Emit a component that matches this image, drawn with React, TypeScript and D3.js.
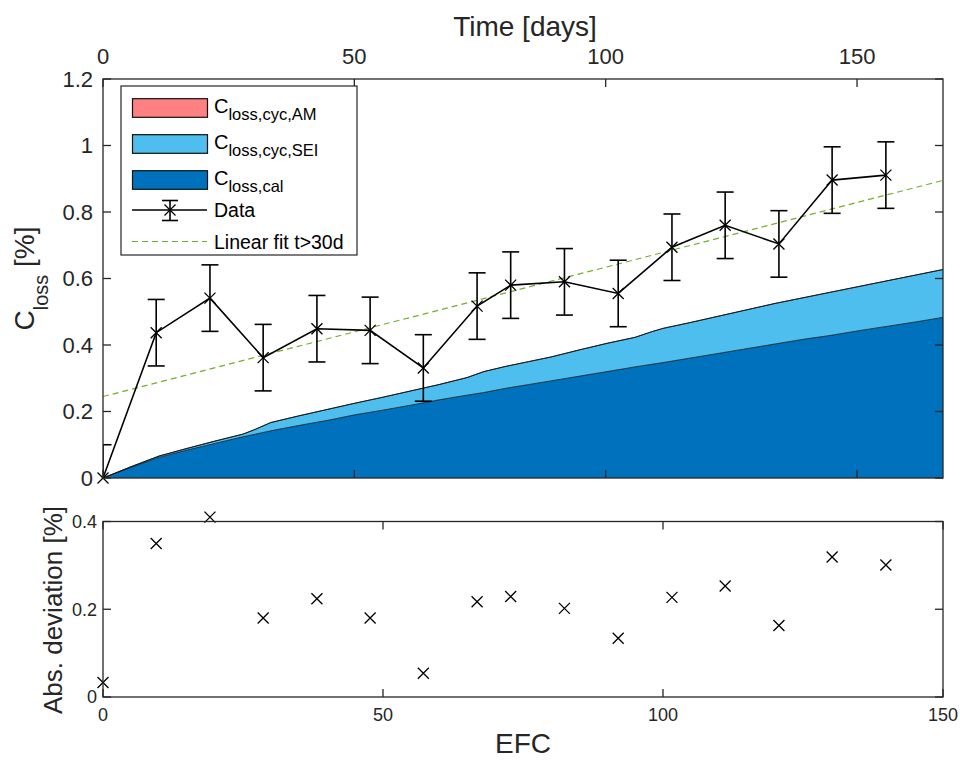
import React from "react";
import * as d3 from "d3";

// ---------- data ----------
const measEfc = [0, 9.5, 19.1, 28.6, 38.2, 47.7, 57.2, 66.8, 72.8, 82.4, 92.0, 101.6, 111.1, 120.7, 130.2, 139.8];
const measLoss = [0, 0.437, 0.541, 0.362, 0.449, 0.444, 0.331, 0.517, 0.58, 0.59, 0.555, 0.694, 0.76, 0.704, 0.896, 0.911];
const measErr = [0.1, 0.1, 0.1, 0.1, 0.1, 0.1, 0.1, 0.1, 0.1, 0.1, 0.1, 0.1, 0.1, 0.1, 0.1, 0.1];
const absDeviation = [0.033, 0.35, 0.41, 0.18, 0.224, 0.18, 0.054, 0.217, 0.229, 0.202, 0.134, 0.227, 0.253, 0.163, 0.319, 0.301];

const modelEfc = [0, 5, 10, 15, 20, 25, 27, 30, 35, 40, 45, 50, 55, 60, 65, 68, 72, 76, 80, 85, 90, 95, 98, 100, 105, 110, 115, 120, 125, 130, 135, 140, 145, 150];
const calLoss = [0, 0.032, 0.062, 0.084, 0.104, 0.124, 0.131, 0.142, 0.158, 0.173, 0.19, 0.204, 0.219, 0.235, 0.249, 0.257, 0.27, 0.281, 0.292, 0.306, 0.32, 0.334, 0.342, 0.347, 0.361, 0.375, 0.389, 0.403, 0.417, 0.429, 0.443, 0.456, 0.469, 0.483];
const seiLoss = [0, 0.002, 0.004, 0.005, 0.007, 0.008, 0.014, 0.025, 0.029, 0.033, 0.035, 0.039, 0.043, 0.046, 0.053, 0.063, 0.066, 0.069, 0.072, 0.079, 0.085, 0.089, 0.098, 0.103, 0.107, 0.112, 0.117, 0.122, 0.125, 0.13, 0.133, 0.137, 0.141, 0.144];
const amLoss = [0, 0, 0, 0, 0, 0, 0, 0, 0, 0, 0, 0, 0, 0, 0, 0, 0, 0, 0, 0, 0, 0, 0, 0, 0, 0, 0, 0, 0, 0, 0, 0, 0, 0];

const fitEfc = [0, 150];
const fitLoss = [0.245, 0.895];

const timeTicks = [0, 50, 100, 150];
const efcTicks = [0, 50, 100, 150];
const yTopTicks = [0, 0.2, 0.4, 0.6, 0.8, 1, 1.2];
const yTopLabels = ["0", "0.2", "0.4", "0.6", "0.8", "1", "1.2"];
const yBotTicks = [0, 0.2, 0.4];
const yBotLabels = ["0", "0.2", "0.4"];

const legendAreas = [
  { key: "am", sub: "loss,cyc,AM", color: "#FF8080" },
  { key: "sei", sub: "loss,cyc,SEI", color: "#4DBEEE" },
  { key: "cal", sub: "loss,cal", color: "#0072BD" },
];

// ---------- layout ----------
const W = 960, H = 761;
const XL = 103, XR = 943;
const TT = 79, TB = 478;
const BT = 521.5, BB = 697;
const FONT = "'Liberation Sans', Arial, Helvetica, sans-serif";
const AX = "#262626";
const TL = 8;

const xS = d3.scaleLinear().domain([0, 150]).range([XL, XR]);
const tS = d3.scaleLinear().domain([0, 167.1]).range([XL, XR]);
const yT = d3.scaleLinear().domain([0, 1.2]).range([TB, TT]);
const yB = d3.scaleLinear().domain([0, 0.4]).range([BB, BT]);

const xMark = (s: number) => `M${-s},${-s}L${s},${s}M${-s},${s}L${s},${-s}`;

export default function App() {
  const table = modelEfc.map((e, i) => ({ efc: e, cal: calLoss[i], sei: seiLoss[i], am: amLoss[i] }));
  const stack = d3.stack<any>().keys(["cal", "sei", "am"])(table);
  const area = d3
    .area<any>()
    .x((d) => xS(d.data.efc))
    .y0((d) => yT(d[0]))
    .y1((d) => yT(d[1]));
  const topLine = d3
    .line<any>()
    .x((d) => xS(d.data.efc))
    .y((d) => yT(d[1]));
  const colorOf: Record<string, string> = { cal: "#0072BD", sei: "#4DBEEE", am: "#FF8080" };

  const dataLine = d3
    .line<number>()
    .x((_, i) => xS(measEfc[i]))
    .y((v) => yT(v))(measLoss);
  const fitLine = d3
    .line<number>()
    .x((_, i) => xS(fitEfc[i]))
    .y((v) => yT(v))(fitLoss);

  const capW = 8.5;

  return (
    <svg
      width={W}
      height={H}
      style={{ position: "absolute", left: 0, top: 0, background: "#fff" }}
      fontFamily={FONT}
    >
      <defs>
        <clipPath id="clipTop">
          <rect x={XL} y={TT} width={XR - XL} height={TB - TT} />
        </clipPath>
        <clipPath id="clipBot">
          <rect x={XL} y={BT} width={XR - XL} height={BB - BT} />
        </clipPath>
      </defs>
      <rect x={0} y={0} width={W} height={H} fill="#fff" />

      {/* ===== top plot ===== */}
      <g clipPath="url(#clipTop)">
        {stack.map((layer) => (
          <path key={layer.key} d={area(layer) || ""} fill={colorOf[layer.key]} stroke="none" />
        ))}
        {stack.map((layer) => (
          <path key={"l" + layer.key} d={topLine(layer) || ""} fill="none" stroke="#111" strokeWidth={0.8} />
        ))}
        <path d={fitLine || ""} fill="none" stroke="#77AC30" strokeWidth={1.2} strokeDasharray="6,4" />
        <path d={dataLine || ""} fill="none" stroke="#000" strokeWidth={1.6} />
        {measEfc.map((e, i) => {
          const x = xS(e);
          const y0 = yT(measLoss[i] - measErr[i]);
          const y1 = yT(measLoss[i] + measErr[i]);
          return (
            <g key={"eb" + i} stroke="#000" strokeWidth={1.6}>
              <line x1={x} x2={x} y1={y0} y2={y1} />
              <line x1={x - capW} x2={x + capW} y1={y0} y2={y0} />
              <line x1={x - capW} x2={x + capW} y1={y1} y2={y1} />
            </g>
          );
        })}
      </g>
      {measEfc.map((e, i) => (
        <path
          key={"mk" + i}
          d={xMark(5.5)}
          transform={`translate(${xS(e)},${yT(measLoss[i])})`}
          stroke="#000"
          strokeWidth={1.3}
          fill="none"
        />
      ))}

      {/* top axes box */}
      <rect x={XL} y={TT} width={XR - XL} height={TB - TT} fill="none" stroke={AX} strokeWidth={1.3} />
      {yTopTicks.map((v, i) => (
        <g key={"yt" + i}>
          <line x1={XL} x2={XL + TL} y1={yT(v)} y2={yT(v)} stroke={AX} strokeWidth={1.3} />
          <line x1={XR} x2={XR - TL} y1={yT(v)} y2={yT(v)} stroke={AX} strokeWidth={1.3} />
          <text x={XL - 10} y={yT(v)} dy="0.36em" textAnchor="end" fontSize={22} fill={AX}>
            {yTopLabels[i]}
          </text>
        </g>
      ))}
      {timeTicks.map((v, i) => (
        <g key={"tt" + i}>
          <line x1={tS(v)} x2={tS(v)} y1={TT} y2={TT + TL} stroke={AX} strokeWidth={1.3} />
          <line x1={tS(v)} x2={tS(v)} y1={TB} y2={TB - TL} stroke={AX} strokeWidth={1.3} />
          <text x={tS(v)} y={64} textAnchor="middle" fontSize={22} fill={AX}>
            {v}
          </text>
        </g>
      ))}
      <text x={525} y={36} textAnchor="middle" fontSize={28} fill={AX}>
        Time [days]
      </text>
      <text transform={`translate(34,${(TT + TB) / 2}) rotate(-90)`} textAnchor="middle" fontSize={28} fill={AX}>
        C
        <tspan fontSize={20} dy={14}>
          loss
        </tspan>
        <tspan dy={-14}> [%]</tspan>
      </text>

      {/* legend */}
      <g>
        <rect x={121} y={86} width={236} height={169} fill="#fff" stroke={AX} strokeWidth={1.2} />
        {legendAreas.map((it, i) => {
          const cy = 108 + i * 36;
          return (
            <g key={"lg" + it.key}>
              <rect x={132.5} y={cy - 9.3} width={75} height={18.6} fill={it.color} stroke="#111" strokeWidth={1.2} />
              <text x={214} y={cy + 5} fontSize={20} fill="#000">
                C
                <tspan fontSize={16.5} dy={7}>
                  {it.sub}
                </tspan>
              </text>
            </g>
          );
        })}
        <g stroke="#000" strokeWidth={1.6}>
          <line x1={132} x2={207} y1={210} y2={210} />
          <line x1={170} x2={170} y1={200.5} y2={220.5} />
          <line x1={162} x2={178} y1={200.5} y2={200.5} />
          <line x1={162} x2={178} y1={220.5} y2={220.5} />
        </g>
        <path d={xMark(5.5)} transform="translate(170,210)" stroke="#000" strokeWidth={1.3} fill="none" />
        <text x={214} y={217} fontSize={19.5} fill="#000">
          Data
        </text>
        <line x1={132} x2={207} y1={241.5} y2={241.5} stroke="#77AC30" strokeWidth={1.2} strokeDasharray="6,4" />
        <text x={214} y={248.5} fontSize={19.5} fill="#000">
          Linear fit t&gt;30d
        </text>
      </g>

      {/* ===== bottom plot ===== */}
      {measEfc.map((e, i) => (
        <path
          key={"dv" + i}
          d={xMark(5.5)}
          transform={`translate(${xS(e)},${yB(absDeviation[i])})`}
          stroke="#000"
          strokeWidth={1.3}
          fill="none"
        />
      ))}
      <rect x={XL} y={BT} width={XR - XL} height={BB - BT} fill="none" stroke={AX} strokeWidth={1.3} />
      {yBotTicks.map((v, i) => (
        <g key={"yb" + i}>
          <line x1={XL} x2={XL + TL} y1={yB(v)} y2={yB(v)} stroke={AX} strokeWidth={1.3} />
          <line x1={XR} x2={XR - TL} y1={yB(v)} y2={yB(v)} stroke={AX} strokeWidth={1.3} />
          <text x={XL - 6} y={yB(v)} dy="0.36em" textAnchor="end" fontSize={18} fill={AX}>
            {yBotLabels[i]}
          </text>
        </g>
      ))}
      {efcTicks.map((v, i) => (
        <g key={"xb" + i}>
          <line x1={xS(v)} x2={xS(v)} y1={BT} y2={BT + TL} stroke={AX} strokeWidth={1.3} />
          <line x1={xS(v)} x2={xS(v)} y1={BB} y2={BB - TL} stroke={AX} strokeWidth={1.3} />
          <text x={xS(v)} y={721} textAnchor="middle" fontSize={18} fill={AX}>
            {v}
          </text>
        </g>
      ))}
      <text x={(XL + XR) / 2} y={753} textAnchor="middle" fontSize={28} fill={AX}>
        EFC
      </text>
      <text transform={`translate(62,610) rotate(-90)`} textAnchor="middle" fontSize={26} fill={AX}>
        Abs. deviation [%]
      </text>
    </svg>
  );
}
